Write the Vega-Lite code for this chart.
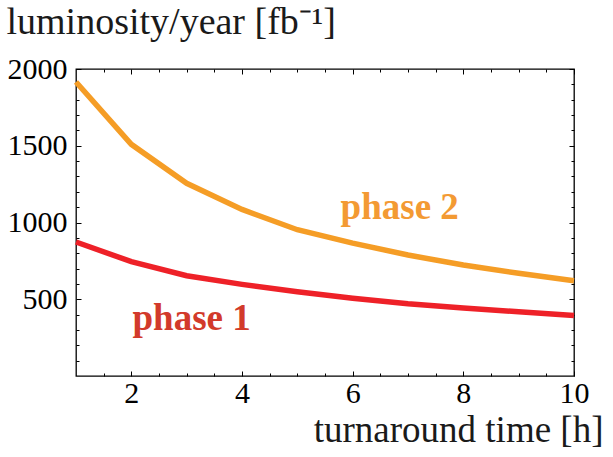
{
  "$schema": "https://vega.github.io/schema/vega-lite/v6.json",
  "width": 498,
  "height": 307,
  "autosize": {"type": "none"},
  "padding": {"left": 76, "top": 69, "right": 39, "bottom": 81},
  "background": "white",
  "config": {
    "view": {"stroke": "black", "strokeWidth": 1.3},
    "font": "Liberation Serif",
    "axis": {
      "domain": false,
      "grid": false,
      "tickColor": "black",
      "tickWidth": 1,
      "labelColor": "black",
      "labelFont": "Liberation Serif",
      "labelFontSize": 30,
      "titleFont": "Liberation Serif",
      "titleFontSize": 37,
      "titleFontWeight": "normal",
      "titleColor": "#1a1a1a"
    }
  },
  "datasets": {
    "curves": [
      {"t": 1, "lum": 1915, "phase": "phase 2"},
      {"t": 2, "lum": 1509, "phase": "phase 2"},
      {"t": 3, "lum": 1255, "phase": "phase 2"},
      {"t": 4, "lum": 1085, "phase": "phase 2"},
      {"t": 5, "lum": 953, "phase": "phase 2"},
      {"t": 6, "lum": 866, "phase": "phase 2"},
      {"t": 7, "lum": 788, "phase": "phase 2"},
      {"t": 8, "lum": 723, "phase": "phase 2"},
      {"t": 9, "lum": 669, "phase": "phase 2"},
      {"t": 10, "lum": 620, "phase": "phase 2"},
      {"t": 1, "lum": 873, "phase": "phase 1"},
      {"t": 2, "lum": 745, "phase": "phase 1"},
      {"t": 3, "lum": 653, "phase": "phase 1"},
      {"t": 4, "lum": 597, "phase": "phase 1"},
      {"t": 5, "lum": 549, "phase": "phase 1"},
      {"t": 6, "lum": 506, "phase": "phase 1"},
      {"t": 7, "lum": 470, "phase": "phase 1"},
      {"t": 8, "lum": 443, "phase": "phase 1"},
      {"t": 9, "lum": 418, "phase": "phase 1"},
      {"t": 10, "lum": 394, "phase": "phase 1"}
    ],
    "labels": [
      {"label": "phase 1", "t": 3.09, "lum": 300},
      {"label": "phase 2", "t": 6.85, "lum": 1023}
    ]
  },
  "layer": [
    {
      "data": {"name": "curves"},
      "mark": {"type": "line", "strokeWidth": 5.5},
      "encoding": {
        "x": {
          "field": "t", "type": "quantitative",
          "scale": {"domain": [1, 10], "nice": false, "zero": false},
          "axis": {
            "orient": "bottom", "values": [2, 4, 6, 8, 10], "tickSize": -5, "format": "d",
            "labelFont": "Liberation Serif", "labelFontSize": 30, "labelColor": "black",
            "labelPadding": 7, "labelBaseline": "top", "labelFlush": false, "labelOverlap": false,
            "title": "turnaround time [h]", "titleX": 527, "titleY": 65,
            "titleAlign": "right", "titleBaseline": "alphabetic", "titleAnchor": null,
            "titleFont": "Liberation Serif", "titleFontSize": 37
          }
        },
        "y": {
          "field": "lum", "type": "quantitative",
          "scale": {"domain": [0, 2000], "nice": false},
          "axis": {
            "orient": "left", "values": [500, 1000, 1500, 2000], "tickSize": -5, "format": "d",
            "labelFont": "Liberation Serif", "labelFontSize": 30, "labelColor": "black",
            "labelPadding": 14, "labelBaseline": "middle", "labelFlush": false, "labelOverlap": false,
            "title": "luminosity/year [fb⁻¹]", "titleAngle": 0, "titleX": -70, "titleY": -36,
            "titleAlign": "left", "titleBaseline": "alphabetic", "titleAnchor": null,
            "titleFont": "Liberation Serif", "titleFontSize": 38
          }
        },
        "color": {
          "field": "phase", "type": "nominal",
          "scale": {"domain": ["phase 1", "phase 2"], "range": ["#ee2128", "#f59d26"]},
          "legend": null
        }
      }
    },
    {
      "data": {"name": "labels"},
      "transform": [{"filter": "datum.label == 'phase 1'"}],
      "mark": {"type": "text", "font": "Liberation Serif", "fontWeight": "bold", "fontSize": 37, "color": "#d23a2b", "align": "center", "baseline": "alphabetic"},
      "encoding": {
        "text": {"field": "label"},
        "x": {
          "field": "t", "type": "quantitative",
          "axis": {"orient": "bottom", "values": [1.5, 2.5, 3, 3.5, 4.5, 5, 5.5, 6.5, 7, 7.5, 8.5, 9, 9.5], "tickSize": -3, "labels": false, "title": null}
        },
        "y": {
          "field": "lum", "type": "quantitative",
          "axis": {"orient": "left", "values": [100, 200, 300, 400, 600, 700, 800, 900, 1100, 1200, 1300, 1400, 1600, 1700, 1800, 1900], "tickSize": -3, "labels": false, "title": null}
        }
      }
    },
    {
      "data": {"name": "labels"},
      "transform": [{"filter": "datum.label == 'phase 2'"}],
      "mark": {"type": "text", "font": "Liberation Serif", "fontWeight": "bold", "fontSize": 37, "color": "#f39a33", "align": "center", "baseline": "alphabetic"},
      "encoding": {
        "text": {"field": "label"},
        "x": {
          "field": "t", "type": "quantitative",
          "axis": {"orient": "top", "values": [2, 4, 6, 8, 10], "tickSize": -5, "labels": false, "title": null}
        },
        "y": {
          "field": "lum", "type": "quantitative",
          "axis": {"orient": "right", "values": [500, 1000, 1500, 2000], "tickSize": -5, "labels": false, "title": null}
        }
      }
    },
    {
      "data": {"name": "curves"},
      "mark": {"type": "point", "opacity": 0},
      "encoding": {
        "x": {
          "field": "t", "type": "quantitative",
          "axis": {"orient": "top", "values": [1.5, 2.5, 3, 3.5, 4.5, 5, 5.5, 6.5, 7, 7.5, 8.5, 9, 9.5], "tickSize": -3, "labels": false, "title": null}
        },
        "y": {
          "field": "lum", "type": "quantitative",
          "axis": {"orient": "right", "values": [100, 200, 300, 400, 600, 700, 800, 900, 1100, 1200, 1300, 1400, 1600, 1700, 1800, 1900], "tickSize": -3, "labels": false, "title": null}
        }
      }
    }
  ],
  "resolve": {"axis": {"x": "independent", "y": "independent"}}
}
